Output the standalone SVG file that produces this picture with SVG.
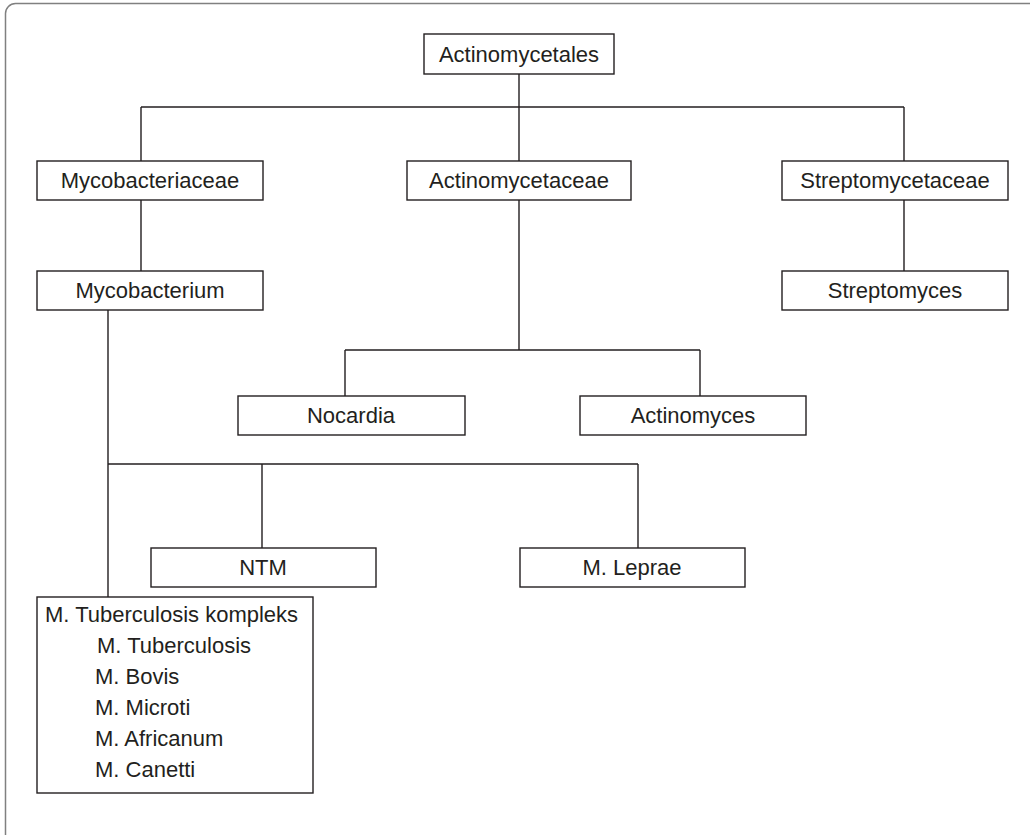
<svg xmlns="http://www.w3.org/2000/svg" width="1030" height="835" viewBox="0 0 1030 835">
<style>
.box{fill:#fff;stroke:#231f20;stroke-width:1.4}
.lbl{font-family:"Liberation Sans",Arial,sans-serif;font-size:22px;fill:#231f20;text-anchor:middle}
.lft{font-family:"Liberation Sans",Arial,sans-serif;font-size:22px;fill:#231f20}
.con{fill:none;stroke:#231f20;stroke-width:1.4}
</style>
<rect x="0" y="0" width="1030" height="835" fill="#fff"/>
<rect x="5.5" y="3.5" width="1040" height="850" rx="10" fill="none" stroke="#808080" stroke-width="1.5"/>
<g id="connectors" class="con">
<path d="M519,74V107M141,107H904M141,107V161M519,107V161M904,107V161"/>
<path d="M141,200V271M904,200V271"/>
<path d="M519,200V350M345,350H700M345,350V396M700,350V396"/>
<path d="M108,310V597M108,464H638M262,464V548M638,464V548"/>
</g>
<g id="actinomycetales"><rect class="box" x="424" y="34" width="190" height="40"/><text class="lbl" x="519" y="62">Actinomycetales</text></g>
<g id="mycobacteriaceae"><rect class="box" x="37" y="161" width="226" height="39"/><text class="lbl" x="150" y="188">Mycobacteriaceae</text></g>
<g id="actinomycetaceae"><rect class="box" x="407" y="161" width="224" height="39"/><text class="lbl" x="519" y="188">Actinomycetaceae</text></g>
<g id="streptomycetaceae"><rect class="box" x="782" y="161" width="226" height="39"/><text class="lbl" x="895" y="188">Streptomycetaceae</text></g>
<g id="mycobacterium"><rect class="box" x="37" y="271" width="226" height="39"/><text class="lbl" x="150" y="298">Mycobacterium</text></g>
<g id="streptomyces"><rect class="box" x="782" y="271" width="226" height="39"/><text class="lbl" x="895" y="298">Streptomyces</text></g>
<g id="nocardia"><rect class="box" x="238" y="396" width="227" height="39"/><text class="lbl" x="351" y="423">Nocardia</text></g>
<g id="actinomyces"><rect class="box" x="580" y="396" width="226" height="39"/><text class="lbl" x="693" y="423">Actinomyces</text></g>
<g id="ntm"><rect class="box" x="151" y="548" width="225" height="39"/><text class="lbl" x="263" y="575">NTM</text></g>
<g id="mleprae"><rect class="box" x="520" y="548" width="225" height="39"/><text class="lbl" x="632" y="575">M. Leprae</text></g>
<g id="mtbkompleks"><rect class="box" x="37" y="597" width="276" height="196"/>
<text class="lft" x="45" y="622">M. Tuberculosis kompleks</text>
<text class="lft" x="97" y="653">M. Tuberculosis</text>
<text class="lft" x="95" y="684">M. Bovis</text>
<text class="lft" x="95" y="715">M. Microti</text>
<text class="lft" x="95" y="746">M. Africanum</text>
<text class="lft" x="95" y="777">M. Canetti</text>
</g>
</svg>
